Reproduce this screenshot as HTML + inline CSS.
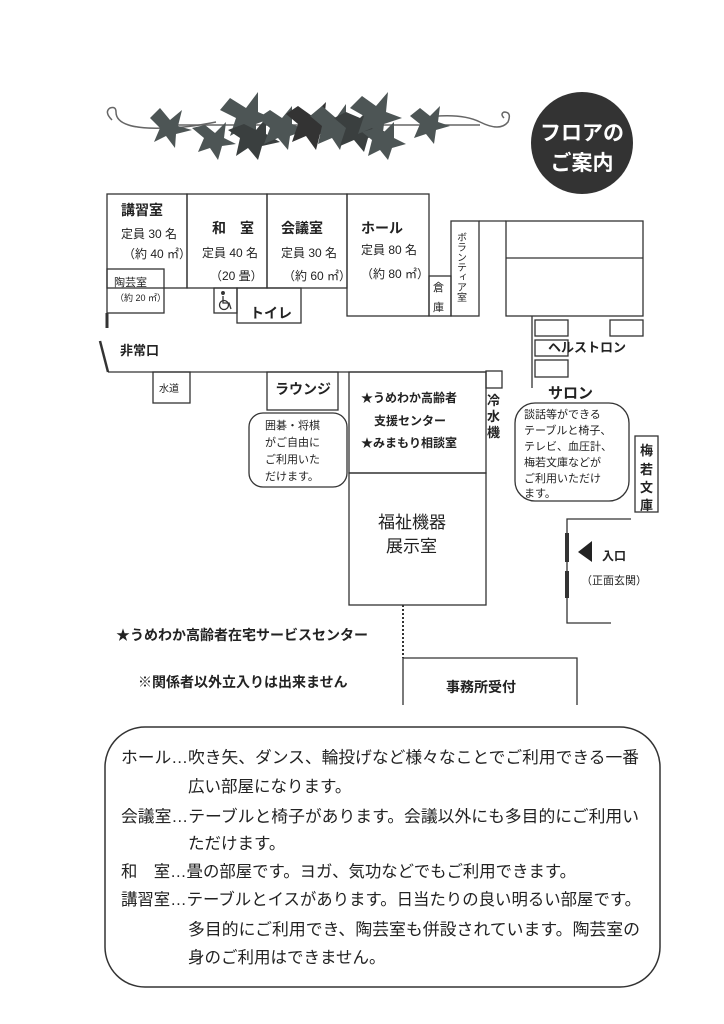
<!DOCTYPE html>
<html><head><meta charset="utf-8"><style>
html,body{margin:0;padding:0;background:#fff;}
svg{display:block;}
text{font-family:"Liberation Sans","Noto Sans CJK JP",sans-serif;fill:#222;}
.b{font-weight:bold;}
</style></head><body>
<svg width="724" height="1024" viewBox="0 0 724 1024" xmlns="http://www.w3.org/2000/svg">
<g stroke="#333" stroke-width="1.3" fill="none">
<rect x="107" y="194" width="80" height="94"/>
<rect x="187" y="194" width="80" height="94"/>
<rect x="267" y="194" width="80" height="94"/>
<rect x="347" y="194" width="82" height="122"/>
<rect x="107" y="269" width="57" height="44"/>
<line x1="107" y1="313" x2="107" y2="328" stroke-width="3"/>
<rect x="214" y="288" width="23" height="25"/>
<rect x="237" y="288" width="64" height="35"/>
<rect x="429" y="276" width="22" height="40"/>
<rect x="451" y="221" width="28" height="95"/>
<line x1="479" y1="221" x2="506" y2="221"/>
<rect x="506" y="221" width="137" height="95"/>
<line x1="506" y1="258" x2="643" y2="258"/>
<line x1="532" y1="316" x2="532" y2="388"/>
<rect x="535" y="320" width="33" height="16"/>
<rect x="535" y="340" width="33" height="16"/>
<rect x="535" y="360" width="33" height="17"/>
<rect x="610" y="320" width="33" height="16"/>
<line x1="100" y1="341" x2="108" y2="372" stroke-width="2.5"/>
<line x1="108" y1="372" x2="486" y2="372"/>
<rect x="153" y="372" width="37" height="31"/>
<rect x="267" y="372" width="71" height="38"/>
<rect x="249" y="413" width="98" height="74" rx="14"/>
<rect x="349" y="372" width="137" height="101"/>
<rect x="486" y="371" width="16" height="17"/>
<rect x="349" y="473" width="137" height="132"/>
<rect x="515" y="403" width="114" height="98" rx="20"/>
<rect x="635" y="436" width="23" height="76"/>
<polyline points="631,519 567,519 567,623 611,623"/>
<line x1="567" y1="533" x2="567" y2="562" stroke-width="4"/>
<line x1="567" y1="571" x2="567" y2="598" stroke-width="4"/>
<line x1="403" y1="605" x2="403" y2="658" stroke-dasharray="2,2" stroke-width="2"/>
<polyline points="403,705 403,658 577,658 577,705"/>
<rect x="105" y="727" width="555" height="260" rx="40" stroke-width="1.5"/>
</g>
<polygon points="592,541 592,562 578,552" fill="#222"/>
<!-- wheelchair icon -->
<g stroke="#333" stroke-width="1.3" fill="none">
<circle cx="224" cy="305" r="4.5"/>
<circle cx="223" cy="293" r="1.3" fill="#333"/>
<polyline points="223,296 223,303 229,303 231,309"/>
</g>
<!-- ivy -->
<g fill="none" stroke="#666" stroke-width="1.5">
<path d="M112,120 q-8,-8 -2,-12 q6,-2 6,4 q0,18 50,16 q20,0 50,-6 M420,118 q40,-6 60,4 q20,10 28,0 q4,-10 -4,-10 q-4,2 0,6"/>
<path d="M160,125 L480,125"/>
</g>
<g fill="#4d5555">
<polygon points="160,108 170,120 182,110 178,126 192,130 176,134 175,148 166,136 154,142 160,128 150,118"/>
<polygon points="205,125 215,133 226,122 224,138 236,144 222,146 218,160 210,148 198,152 204,138 192,128"/>
<polygon points="230,98 246,108 258,92 258,112 272,118 256,124 256,140 244,128 230,136 236,118 220,110"/>
<polygon points="244,124 256,130 266,118 266,134 280,142 262,146 258,160 248,148 236,156 240,138 228,130" fill="#3a3f3f"/>
<polygon points="270,110 282,118 292,106 292,124 306,130 290,136 288,150 278,138 264,144 270,128 258,118"/>
<polygon points="298,106 312,116 326,102 324,122 340,130 320,134 316,150 306,136 292,142 298,124 286,114" fill="#333"/>
<polygon points="322,106 336,118 346,104 346,122 360,130 344,136 340,150 332,138 318,144 322,126 310,116"/>
<polygon points="346,112 360,118 372,106 370,126 386,132 368,138 364,152 354,140 340,146 346,128 334,118" fill="#3a3f3f"/>
<polygon points="362,96 376,106 388,92 386,112 402,118 384,124 382,140 372,128 358,134 364,116 350,108"/>
<polygon points="376,128 384,132 394,122 394,138 406,144 392,148 388,160 380,150 368,156 372,140 362,132"/>
<polygon points="420,108 430,116 440,106 438,122 450,126 436,130 434,144 426,134 414,138 420,124 410,116"/>
</g>
<circle cx="582" cy="143" r="51" fill="#333"/>
<text x="582" y="140" text-anchor="middle" font-size="21" class="b" style="fill:#fff">フロアの</text>
<text x="582" y="170" text-anchor="middle" font-size="21" class="b" style="fill:#fff">ご案内</text>
<g font-size="14" class="b">
<text x="121" y="215">講習室</text>
<text x="212" y="233">和　室</text>
<text x="281" y="233">会議室</text>
<text x="361" y="233">ホール</text>
<text x="120" y="355" font-size="13">非常口</text>
<text x="275" y="394">ラウンジ</text>
<text x="361" y="402" font-size="12">★うめわか高齢者</text>
<text x="374" y="425" font-size="12">支援センター</text>
<text x="361" y="447" font-size="12">★みまもり相談室</text>
<text x="250" y="318">トイレ</text>
<text x="548" y="352" font-size="13">ヘルストロン</text>
<text x="548" y="398" font-size="15">サロン</text>
<text x="602" y="560" font-size="12">入口</text>
<text x="116" y="640" font-size="14">★うめわか高齢者在宅サービスセンター</text>
<text x="138" y="687" font-size="14">※関係者以外立入りは出来ません</text>
<text x="446" y="692" font-size="14">事務所受付</text>
</g>
<g font-size="12">
<text x="121" y="238">定員 30 名</text>
<text x="123" y="258">（約 40 ㎡）</text>
<text x="202" y="257">定員 40 名</text>
<text x="210" y="280">（20 畳）</text>
<text x="281" y="257">定員 30 名</text>
<text x="283" y="280">（約 60 ㎡）</text>
<text x="361" y="254">定員 80 名</text>
<text x="361" y="278">（約 80 ㎡）</text>
<text x="114" y="286" font-size="11">陶芸室</text>
<text x="115" y="301" font-size="9">（約 20 ㎡）</text>
<text x="433" y="291" font-size="11">倉</text>
<text x="433" y="311" font-size="11">庫</text>
<text x="159" y="392" font-size="10">水道</text>
<text x="581" y="584" font-size="11">（正面玄関）</text>
<text x="378" y="528" font-size="17">福祉機器</text>
<text x="386" y="552" font-size="17">展示室</text>
</g>
<text x="460" y="232" font-size="10" style="writing-mode:tb">ボランティア室</text>
<g font-size="13" class="b"><text x="487" y="405">冷</text><text x="487" y="421">水</text><text x="487" y="437">機</text>
<text x="640" y="455">梅</text><text x="640" y="474">若</text><text x="640" y="492">文</text><text x="640" y="510">庫</text></g>
<g font-size="11" style="fill:#444">
<text x="265" y="429">囲碁・将棋</text>
<text x="265" y="446">がご自由に</text>
<text x="265" y="463">ご利用いた</text>
<text x="265" y="480">だけます。</text>
<text x="524" y="418">談話等ができる</text>
<text x="524" y="434">テーブルと椅子、</text>
<text x="524" y="450">テレビ、血圧計、</text>
<text x="524" y="466">梅若文庫などが</text>
<text x="524" y="482">ご利用いただけ</text>
<text x="524" y="497">ます。</text>
</g>
<g font-size="16.5">
<text x="121" y="763" textLength="518" lengthAdjust="spacingAndGlyphs">ホール…吹き矢、ダンス、輪投げなど様々なことでご利用できる一番</text>
<text x="188" y="792">広い部屋になります。</text>
<text x="121" y="822" textLength="518" lengthAdjust="spacingAndGlyphs">会議室…テーブルと椅子があります。会議以外にも多目的にご利用い</text>
<text x="188" y="849">ただけます。</text>
<text x="121" y="877" textLength="455" lengthAdjust="spacingAndGlyphs">和　室…畳の部屋です。ヨガ、気功などでもご利用できます。</text>
<text x="121" y="905" textLength="520" lengthAdjust="spacingAndGlyphs">講習室…テーブルとイスがあります。日当たりの良い明るい部屋です。</text>
<text x="188" y="935" textLength="452" lengthAdjust="spacingAndGlyphs">多目的にご利用でき、陶芸室も併設されています。陶芸室の</text>
<text x="188" y="963">身のご利用はできません。</text>
</g>
</svg>
</body></html>
